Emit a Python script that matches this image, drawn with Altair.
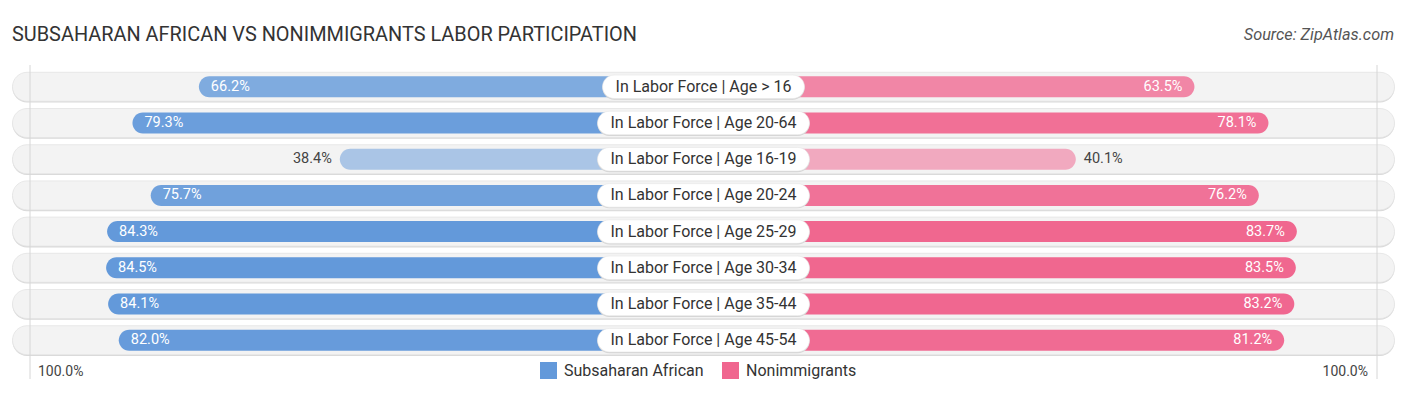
import altair as alt
import pandas as pd

# ---------------- data ----------------
categories = [
    "In Labor Force | Age > 16",
    "In Labor Force | Age 20-64",
    "In Labor Force | Age 16-19",
    "In Labor Force | Age 20-24",
    "In Labor Force | Age 25-29",
    "In Labor Force | Age 30-34",
    "In Labor Force | Age 35-44",
    "In Labor Force | Age 45-54",
]
subsaharan = [66.2, 79.3, 38.4, 75.7, 84.3, 84.5, 84.1, 82.0]
nonimmigrants = [63.5, 78.1, 40.1, 76.2, 83.7, 83.5, 83.2, 81.2]
groups = ["Subsaharan African", "Nonimmigrants"]
group_colors = ["#6399da", "#f0668f"]

title_text = "SUBSAHARAN AFRICAN VS NONIMMIGRANTS LABOR PARTICIPATION"
source_text = "Source: ZipAtlas.com"
axis_label = "100.0%"

# ---------------- layout (pixel units, 1 x-unit = 1 px) ----------------
W, H = 1390, 375
CX = 695.5            # centre of the diverging axis inside the plot
OFFSET, PX_PER_PCT = 169, 5.07
ROW0, STEP = 78.8, 36.2
PILL_HALF, PILL_H = 691, 29
BAR_H = 21
BOX_H = 23.5
GRID = 673.5
FONT = "Roboto"

# approximate Roboto advance widths (em) to size the label boxes
_w = {"I": .272, "n": .551, " ": .248, "L": .527, "a": .531, "b": .548, "o": .557,
      "r": .338, "F": .533, "c": .511, "e": .517, "|": .243, "A": .652, "g": .549,
      ">": .521, "-": .27}
def text_width(s, size):
    return sum(_w.get(ch, .5615) for ch in s) * size

rows = pd.DataFrame({"row": list(range(len(categories))), "label": categories})
rows["box_half"] = [(text_width(l, 16) + 28) / 2 for l in categories]

long = pd.DataFrame({
    "row": list(range(len(categories))) * 2,
    "label": categories * 2,
    "group": [groups[0]] * len(categories) + [groups[1]] * len(categories),
    "side": [-1] * len(categories) + [1] * len(categories),
    "value": subsaharan + nonimmigrants,
})

xs = alt.Scale(domain=[-CX, W - CX], nice=False, zero=False)
ys = alt.Scale(domain=[0, H], reverse=True, nice=False, zero=False)
yc_expr = f"{ROW0} + {STEP} * datum.row"

# ---------------- layers ----------------
rows_base = alt.Chart(rows).transform_calculate(yc=yc_expr, zero="0")


def pill_layer(dy, **mark):
    return rows_base.transform_calculate(
        px1=f"-{PILL_HALF}", px2=f"{PILL_HALF}",
        y1=f"datum.yc - {PILL_H/2} + {dy}", y2=f"datum.yc + {PILL_H/2} + {dy}",
    ).mark_bar(cornerRadius=PILL_H / 2, **mark).encode(
        x=alt.X("px1:Q", scale=xs, axis=None),
        x2="px2:Q",
        y=alt.Y("y1:Q", scale=ys, axis=None),
        y2="y2:Q",
    )


pill_shadow = pill_layer(1.3, fill="#d9d9d9")
pill = pill_layer(0, fill="#f3f3f3", stroke="#e3e3e3", strokeWidth=0.8)

grid = alt.Chart(pd.DataFrame({"side": [-1, 1]})).transform_calculate(
    gx=f"datum.side * {GRID}", gy1="57", gy2="371"
).mark_rule(color="#d6d6d6", strokeWidth=1).encode(
    x=alt.X("gx:Q", scale=xs, axis=None),
    y=alt.Y("gy1:Q", scale=ys, axis=None),
    y2="gy2:Q",
)

bars_base = alt.Chart(long).transform_calculate(
    yc=yc_expr,
    zero="0",
    xend=f"datum.side * ({OFFSET} + {PX_PER_PCT} * datum.value)",
)

bars = bars_base.transform_calculate(
    y1=f"datum.yc - {BAR_H/2}", y2=f"datum.yc + {BAR_H/2}"
).mark_bar(cornerRadius=BAR_H / 2).encode(
    x=alt.X("zero:Q", scale=xs, axis=None),
    x2="xend:Q",
    y=alt.Y("y1:Q", scale=ys, axis=None),
    y2="y2:Q",
    color=alt.Color(
        "group:N",
        scale=alt.Scale(domain=groups, range=group_colors),
        legend=alt.Legend(
            title=None, orient="none", direction="horizontal",
            legendX=532, legendY=354, padding=0,
            symbolType="square", symbolSize=289, symbolStrokeWidth=0,
            symbolOpacity=1, labelFont=FONT, labelFontSize=16,
            labelColor="#333333", labelOffset=7, columnPadding=18,
        ),
    ),
    opacity=alt.Opacity("value:Q", scale=alt.Scale(domain=[38, 84], range=[0.5, 1], clamp=True), legend=None),
)


def box_layer(dy, **mark):
    return rows_base.transform_calculate(
        x1="-datum.box_half", x2="datum.box_half",
        y1=f"datum.yc - {BOX_H/2} + {dy}", y2=f"datum.yc + {BOX_H/2} + {dy}",
    ).mark_bar(cornerRadius=BOX_H / 2, **mark).encode(
        x=alt.X("x1:Q", scale=xs, axis=None), x2="x2:Q",
        y=alt.Y("y1:Q", scale=ys, axis=None), y2="y2:Q",
    )


box_shadow = box_layer(1.2, fill="#d4d4d4")
box = box_layer(0, fill="#ffffff", stroke="#e6e6e6", strokeWidth=0.6)

center_text = rows_base.mark_text(
    font=FONT, fontSize=16, color="#333333", align="center", baseline="middle"
).encode(
    x=alt.X("zero:Q", scale=xs, axis=None),
    y=alt.Y("yc:Q", scale=ys, axis=None),
    text="label:N",
)

value_layers = []
for side in (-1, 1):
    for inside in (True, False):
        if inside:
            cond = f"datum.side == {side} && datum.value > 50"
            shift = -12
            align = "left" if side == -1 else "right"
            col = "#ffffff"
        else:
            cond = f"datum.side == {side} && datum.value <= 50"
            shift = 8
            align = "right" if side == -1 else "left"
            col = "#444444"
        value_layers.append(
            bars_base.transform_filter(cond).transform_calculate(
                tx=f"datum.side * ({OFFSET} + {PX_PER_PCT} * datum.value + ({shift}))",
                txt="format(datum.value, '.1f') + '%'",
            ).mark_text(
                font=FONT, fontSize=14.5, color=col, align=align, baseline="middle"
            ).encode(
                x=alt.X("tx:Q", scale=xs, axis=None),
                y=alt.Y("yc:Q", scale=ys, axis=None),
                text="txt:N",
            )
        )

title = alt.Chart(pd.DataFrame({"t": [title_text]})).mark_text(
    font=FONT, fontSize=19.9, color="#333333", align="left", baseline="middle"
).encode(x=alt.value(4), y=alt.value(26.5), text="t:N")

source = alt.Chart(pd.DataFrame({"t": [source_text]})).mark_text(
    font=FONT, fontSize=16.3, fontStyle="italic", color="#555555", align="right", baseline="middle"
).encode(x=alt.value(1386), y=alt.value(26.5), text="t:N")

left_lab = alt.Chart(pd.DataFrame({"t": [axis_label]})).mark_text(
    font=FONT, fontSize=14, color="#444444", align="left", baseline="middle"
).encode(x=alt.value(30), y=alt.value(363.5), text="t:N")

right_lab = alt.Chart(pd.DataFrame({"t": [axis_label]})).mark_text(
    font=FONT, fontSize=14, color="#444444", align="right", baseline="middle"
).encode(x=alt.value(1360), y=alt.value(363.5), text="t:N")

chart = alt.layer(
    pill_shadow, pill, grid, bars, box_shadow, box, center_text,
    *value_layers, title, source, left_lab, right_lab,
).properties(
    width=W, height=H,
    autosize=alt.AutoSizeParams(type="none"),
    padding=0,
).configure_view(stroke=None)

chart.save("out.html", embed_options={"renderer": "svg", "actions": False})
